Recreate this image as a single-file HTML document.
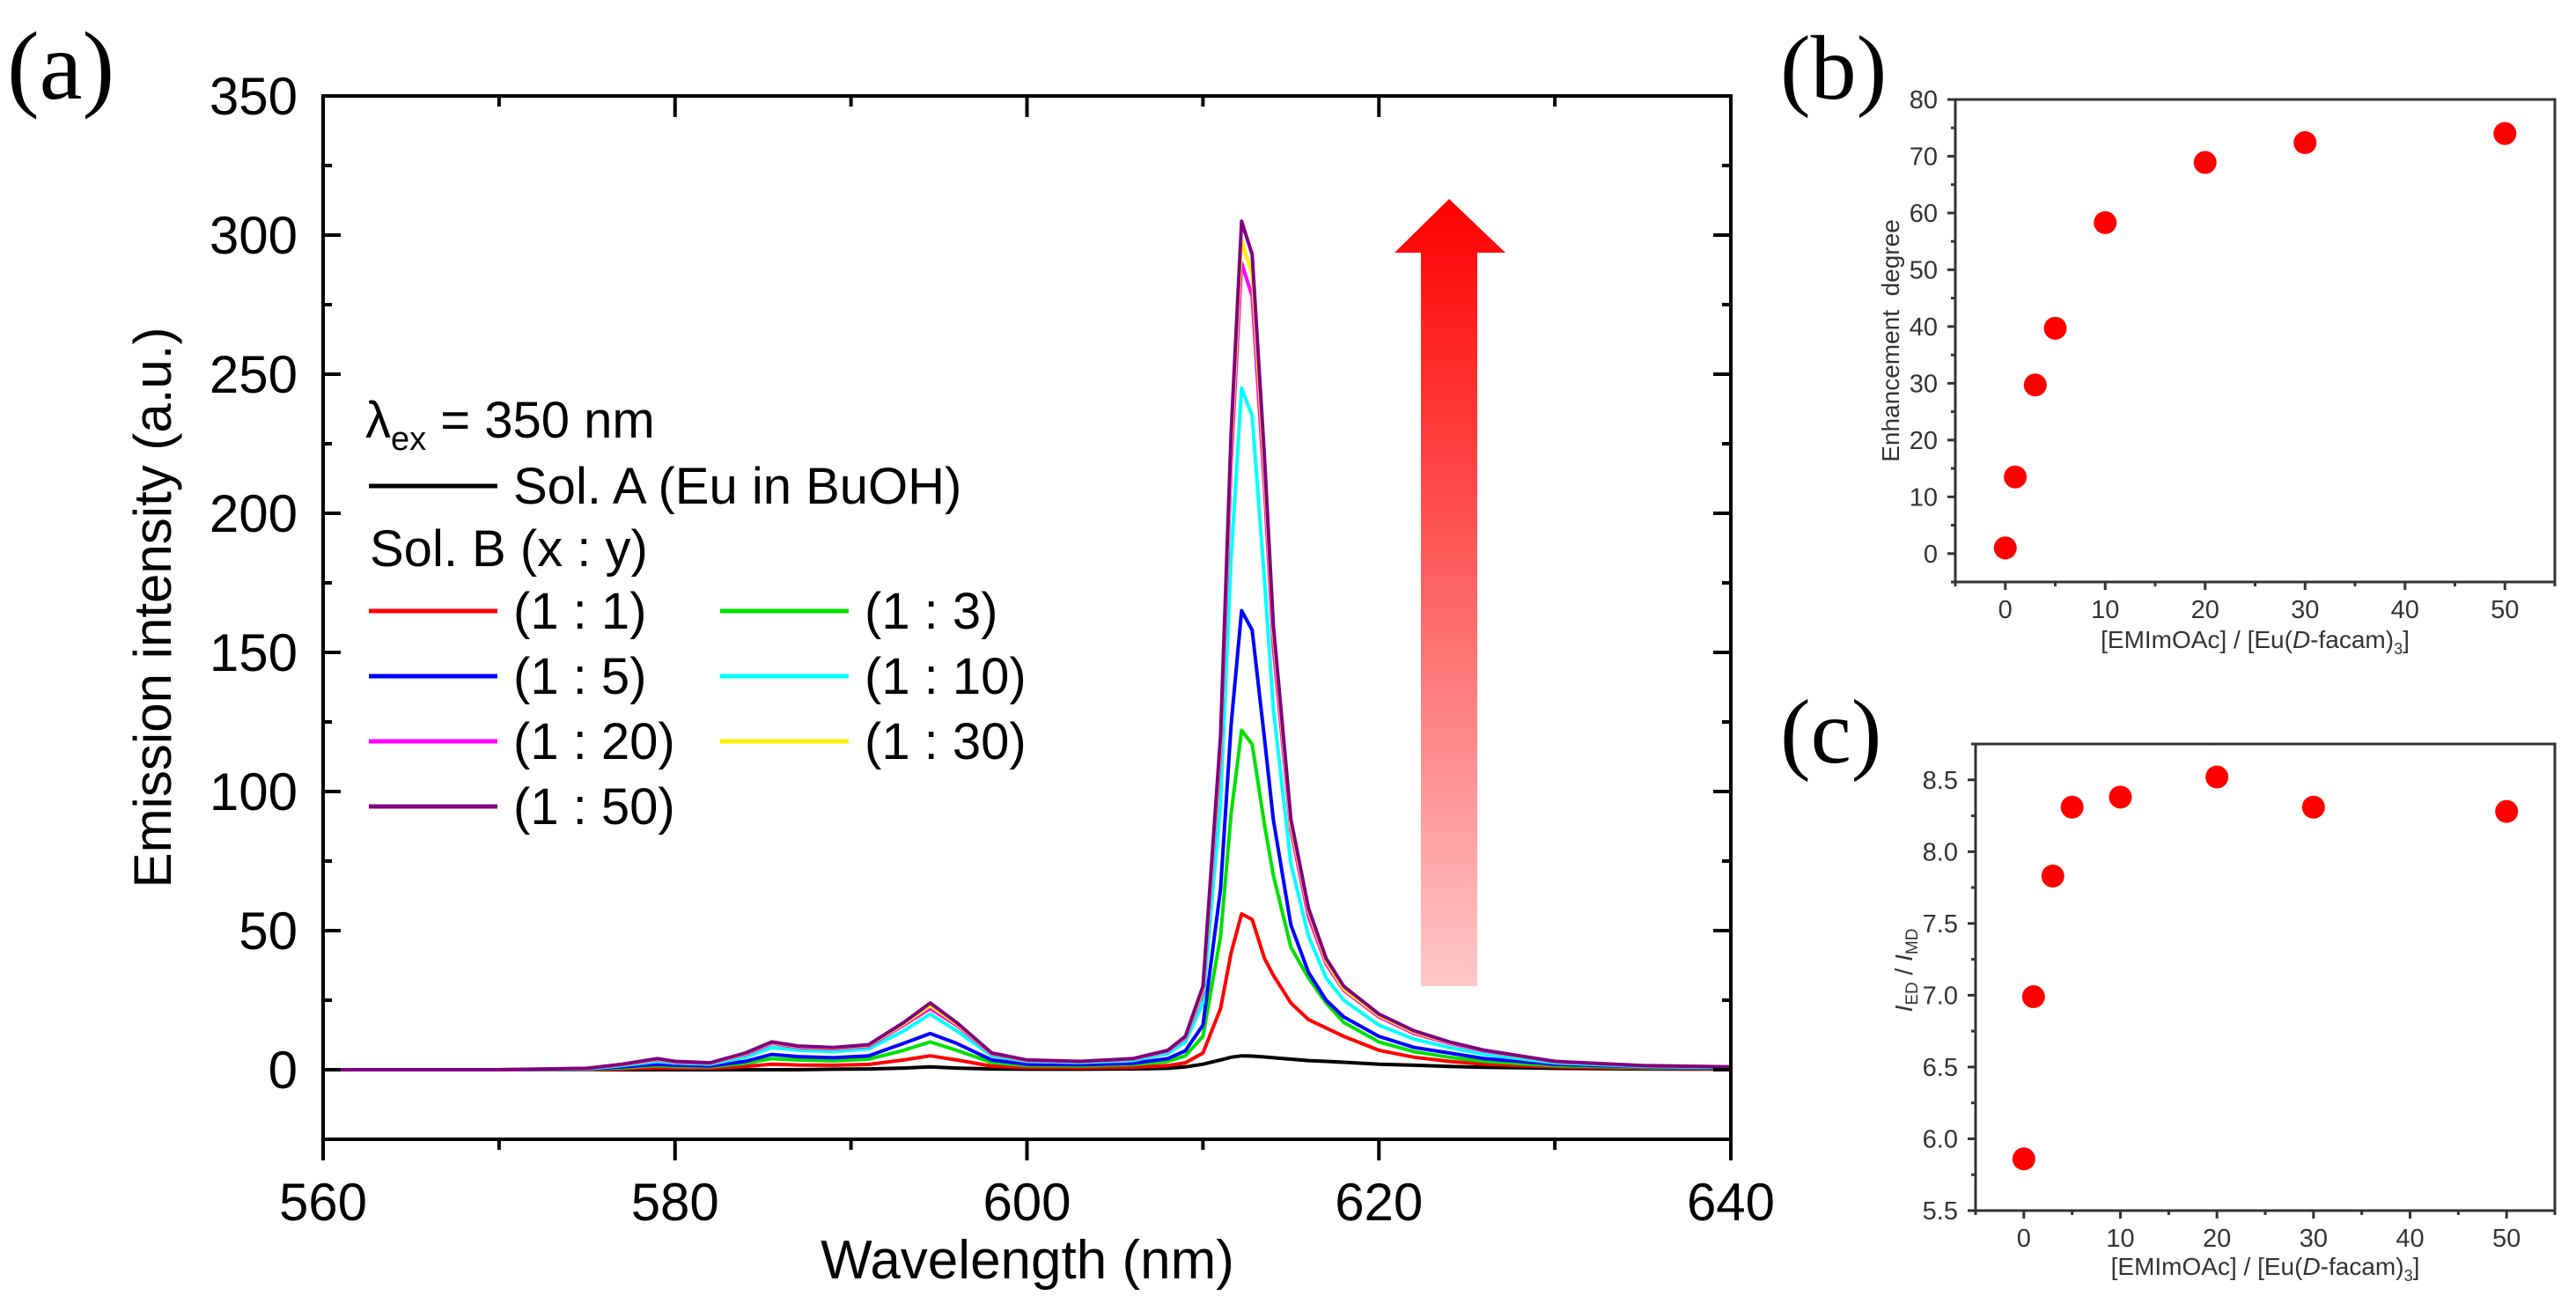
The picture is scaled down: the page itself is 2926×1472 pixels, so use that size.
<!DOCTYPE html>
<html><head><meta charset="utf-8"><style>
html,body{margin:0;padding:0;background:#fff}
svg{display:block}
text{font-family:"Liberation Sans",Arial,sans-serif}
text.serif{font-family:"Liberation Serif","Times New Roman",serif}
</style></head><body>
<svg id="fig" width="2926" height="1472" viewBox="0 0 2926 1472" xmlns="http://www.w3.org/2000/svg">
<defs><linearGradient id="ag" x1="0" y1="0" x2="0" y2="1"><stop offset="0" stop-color="#ff0000"/><stop offset="1" stop-color="#ffc8c8"/></linearGradient></defs>
<g id="pa"></g>
<g id="pb"></g>
<g id="pc"></g>
</svg>
<script>
// ---- Panel (a) data ----
const wl = [560,570,575,577,579,580,582,584,585.5,587,589,591,593,594.5,596,598,600,603,606,608,609,610,611,611.6,612.2,612.8,613.5,614,615,616,617,618,620,622,624,626,628,630,635,640];
const sA = [0,0,0,0,0,0,0,0,0,0,0.2,0.3,0.6,1,0.6,0.3,0.2,0.2,0.3,0.5,1,2,3.5,4.5,5,4.9,4.6,4.3,3.8,3.3,3,2.7,2,1.6,1.2,0.9,0.7,0.5,0.3,0.2];
const s11 = [0,0,0,0.3,0.7,0.6,0.5,1.2,2,1.7,1.6,1.9,3.5,5,3.5,1.3,0.8,0.7,0.9,1.5,2.5,6,22,42,56,54,40,34,24,18,15,12,7,4.5,3,2,1.5,1,0.5,0.3];
const s13 = [0,0,0.1,0.7,1.5,1.2,1,2.3,4,3.5,3.2,3.8,7,10,7,2.6,1.5,1.4,1.8,3,5,12,48,92,122,117,88,70,44,33,24,17,10,6.5,4.5,3,2.2,1.5,0.8,0.5];
const s15 = [0,0,0.2,1,2,1.6,1.4,3,5.5,4.7,4.3,5,9.5,13,9.5,3.5,2,1.8,2.3,4,6.8,16,65,124,165,158,119,90,52,35,25,19,12,8,6,4,3,2,1,0.6];
const s110 = [0,0,0.3,1.5,3,2.4,2,4.5,8,7,6.5,7.5,14,20,14,5,3,2.6,3.3,5.8,10,24,96,184,245,235,176,130,74,48,33,25,16,11,8,5.5,4,2.5,1.2,0.8];
const s120 = [0,0,0.4,1.8,3.6,2.8,2.3,5.5,9.5,8,7.5,8.5,16,22,16,5.7,3.3,2.9,3.8,6.7,11.5,28,114,218,290,278,209,152,86,55,38,28.5,19,13,9.5,6.7,4.8,2.9,1.4,1];
const s130 = [0,0,0.45,1.9,3.8,2.9,2.4,5.8,9.8,8.3,7.8,8.8,16.5,23,16.5,5.9,3.4,2.95,3.9,6.9,11.8,29,117,224,298,286,215,157,88,57,39,29,19.5,13.5,9.8,6.9,4.9,2.95,1.45,1];
const s150 = [0,0,0.5,2,4,3,2.5,6,10,8.5,8,9,17,24,17,6,3.5,3,4,7,12,30,120,229,305,293,220,160,90,58,40,30,20,14,10,7,5,3,1.5,1];
const seriesOrder = [sA,s11,s13,s15,s110,s120,s130,s150];
const seriesColors = ["#000000","#ff0000","#00e000","#0000ff","#00ffff","#ff00ff","#ffee00","#800080"];
const seriesNames = ["sol-a","ratio-1-1","ratio-1-3","ratio-1-5","ratio-1-10","ratio-1-20","ratio-1-30","ratio-1-50"];
const aXTicks = [560,580,600,620,640];
const aYTicks = [0,50,100,150,200,250,300,350];
// ---- Panel (b) data ----
const bX = [0,1,3,5,10,20,30,50];
const bY = [1,13.5,29.7,39.7,58.3,68.9,72.4,74];
const bXTicks = [0,10,20,30,40,50];
const bYTicks = [0,10,20,30,40,50,60,70,80];
// ---- Panel (c) data ----
const cX = [0,1,3,5,10,20,30,50];
const cY = [5.86,6.99,7.83,8.31,8.38,8.52,8.31,8.28];
const cXTicks = [0,10,20,30,40,50];
const cYTicks = ["5.5","6.0","6.5","7.0","7.5","8.0","8.5"];

const NS="http://www.w3.org/2000/svg";
function mk(p,tag,attrs,txt){const e=document.createElementNS(NS,tag);for(const k in attrs)e.setAttribute(k,attrs[k]);if(txt!==undefined)e.textContent=txt;p.appendChild(e);return e;}

// ===== Panel a =====
const pa=document.getElementById('pa');
const aL=367,aR=1966,aT=109,aB=1294;
const ax=v=>aL+(v-560)*(aR-aL)/80;
const ay=v=>aT+(350-v)*(aB-aT)/375;
let t;
t=mk(pa,'text',{x:8,y:112,'font-size':110,'class':'serif'},'(a)');


seriesOrder.forEach((s,i)=>{
  const d=wl.map((w,j)=>(j?'L':'M')+ax(w).toFixed(1)+','+ay(s[j]).toFixed(1)).join(' ');
  const p=mk(pa,'path',{d:d,fill:'none',stroke:seriesColors[i],'stroke-width':4,'stroke-linejoin':'round'});
  
  
});
const ar=mk(pa,'path',{d:'M1614,1120 L1614,287 L1584,287 L1646,226 L1710,287 L1678,287 L1678,1120 Z',fill:'url(#ag)'});


const fr=mk(pa,'rect',{x:aL,y:aT,width:aR-aL,height:aB-aT,fill:'none',stroke:'#000','stroke-width':4});


for(let v=560;v<=640;v+=10){const maj=v%20===0;const L=maj?24:12;
  mk(pa,'line',{x1:ax(v),x2:ax(v),y1:aB,y2:aB+L,stroke:'#000','stroke-width':4});
  mk(pa,'line',{x1:ax(v),x2:ax(v),y1:aT,y2:aT+L,stroke:'#000','stroke-width':4});}
aXTicks.forEach(v=>{const e=mk(pa,'text',{x:ax(v),y:1386,'font-size':60,'text-anchor':'middle'},String(v));
  
  });
for(let v=-25;v<=350;v+=25){const maj=v%50===0;const L=maj?20:10;
  mk(pa,'line',{x1:aL,x2:aL+L,y1:ay(v),y2:ay(v),stroke:'#000','stroke-width':4});
  mk(pa,'line',{x1:aR,x2:aR-L,y1:ay(v),y2:ay(v),stroke:'#000','stroke-width':4});}
aYTicks.forEach(v=>{const e=mk(pa,'text',{x:338,y:ay(v)+21,'font-size':60,'text-anchor':'end'},String(v));
  
  });
t=mk(pa,'text',{x:1167,y:1452,'font-size':62,'text-anchor':'middle'},'Wavelength (nm)');


t=mk(pa,'text',{x:0,y:0,'font-size':60,'text-anchor':'middle',transform:'translate(194,690) rotate(-90)'},'Emission intensity (a.u.)');


const lg=mk(pa,'g',{});


t=mk(lg,'text',{x:415,y:497,'font-size':58});
t.innerHTML='λ<tspan font-size="38" dy="14">ex</tspan><tspan dy="-14"> = 350 nm</tspan>';


function entry(x,y,col,label,nm){
  const l=mk(lg,'line',{x1:x,x2:x+146,y1:y,y2:y,stroke:col,'stroke-width':5});
  
  
  const e=mk(lg,'text',{x:x+164,y:y+20,'font-size':58},label);
  
  
}
entry(419,552,'#000','Sol. A (Eu in BuOH)','sol-a');
t=mk(lg,'text',{x:420,y:643,'font-size':58},'Sol. B (x : y)');


entry(419,694,'#ff0000','(1 : 1)','1-1');
entry(818,694,'#00e000','(1 : 3)','1-3');
entry(419,768,'#0000ff','(1 : 5)','1-5');
entry(818,768,'#00ffff','(1 : 10)','1-10');
entry(419,842,'#ff00ff','(1 : 20)','1-20');
entry(818,842,'#ffee00','(1 : 30)','1-30');
entry(419,916,'#800080','(1 : 50)','1-50');

// ===== small panels =====
function small(g,o){
  const sx=v=>o.L+(v-o.x0)*(o.R-o.L)/(o.x1-o.x0);
  const sy=v=>o.B-(v-o.y0)*(o.B-o.T)/(o.y1-o.y0);
  let e=mk(g,'text',{x:2022,y:o.labY,'font-size':104,'class':'serif'},o.lab);
  
  
  e=mk(g,'rect',{x:o.L,y:o.T,width:o.R-o.L,height:o.B-o.T,fill:'none',stroke:'#333','stroke-width':3});
  
  
  for(let v=-5;v<=55;v+=5){const L=v%10===0?9:5;mk(g,'line',{x1:sx(v),x2:sx(v),y1:o.B,y2:o.B+L,stroke:'#333','stroke-width':3});}
  o.xt.forEach(v=>{const e=mk(g,'text',{x:sx(v),y:o.B+41,'font-size':29,'text-anchor':'middle',fill:'#333'},String(v));
    
    });
  for(let v=o.y0;v<=o.y1+1e-9;v+=o.minor){const maj=Math.abs(Math.round(v/o.major)*o.major-v)<1e-6;
    mk(g,'line',{x1:o.L,x2:o.L-(maj?9:5),y1:sy(v),y2:sy(v),stroke:'#333','stroke-width':3});}
  o.yt.forEach(v=>{const e=mk(g,'text',{x:o.L-20,y:sy(parseFloat(v))+10,'font-size':29,'text-anchor':'end',fill:'#333'},String(v));
    
    });
  o.xs.forEach((xv,i)=>{const c=mk(g,'circle',{cx:sx(xv),cy:sy(o.ys[i]),r:13,fill:'#ff0000'});
    
    });
  e=mk(g,'text',{x:(o.L+o.R)/2,y:o.xlabY,'font-size':28,'text-anchor':'middle',fill:'#333'});
  e.innerHTML='[EMImOAc] / [Eu(<tspan font-style="italic">D</tspan>-facam)<tspan font-size="18" dy="7">3</tspan><tspan dy="-7">]</tspan>';
  
  
  e=mk(g,'text',{x:0,y:0,'font-size':28,'text-anchor':'middle',fill:'#333',transform:'translate('+o.ytx+','+o.yty+') rotate(-90)'});
  e.innerHTML=o.ytitle;
  
  
}
small(document.getElementById('pb'),{L:2221,R:2902,T:113,B:661,x0:-5,x1:55,y0:-5,y1:80,major:10,minor:5,
  xt:bXTicks,yt:bYTicks,xs:bX,ys:bY,lab:'(b)',labY:112,xlabY:736,ytx:2157,yty:387,ytitle:'Enhancement&#160;&#160;degree'});
small(document.getElementById('pc'),{L:2244,R:2902,T:845,B:1375,x0:-5,x1:55,y0:5.5,y1:8.75,major:0.5,minor:0.25,
  xt:cXTicks,yt:cYTicks,xs:cX,ys:cY,lab:'(c)',labY:866,xlabY:1448,ytx:2172,yty:1102,
  ytitle:'<tspan font-style="italic">I</tspan><tspan font-size="19" dy="6">ED</tspan><tspan dy="-6"> / </tspan><tspan font-style="italic">I</tspan><tspan font-size="19" dy="6">MD</tspan>'});
</script>
</body></html>
